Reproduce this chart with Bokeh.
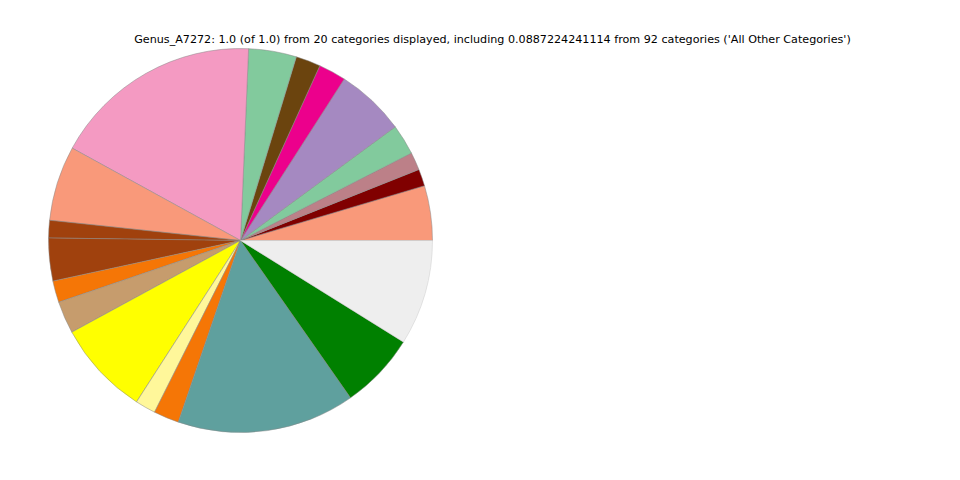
import numpy as np
from bokeh.plotting import figure
from bokeh.models import ColumnDataSource, Range1d
from bokeh.core.properties import value
from bokeh.embed import file_html
from bokeh.resources import INLINE

title_text = ("Genus_A7272: 1.0 (of 1.0) from 20 categories displayed, including "
              "0.0887224241114 from 92 categories ('All Other Categories')")

fractions = [0.0461, 0.0142, 0.0150, 0.0256, 0.0583, 0.0231, 0.0208, 0.0403,
             0.1769, 0.0631, 0.0147, 0.0361, 0.0181, 0.0272, 0.0797, 0.0172,
             0.0214, 0.1497, 0.0642, 0.0887224241114]
colors = ["#F9997A", "#800000", "#BC8088", "#82CA9D", "#A589C1", "#EC008C",
          "#6B440E", "#82CA9D", "#F49AC2", "#F9997A", "#A0410D", "#A0410D",
          "#F57606", "#C69C6D", "#FFFF00", "#FFF79A", "#F57606", "#5FA09E",
          "#008000", "#EEEEEE"]
edges = ["#888888"] * 19 + ["#CCCCCC"]

W, H = 944, 464
frac = np.array(fractions) / np.sum(fractions)
ends = np.cumsum(frac) * 2 * np.pi
starts = np.concatenate([[0.0], ends[:-1]])

src = ColumnDataSource(dict(start=starts, end=ends, color=colors, edge=edges,
                            x=[240] * len(fractions), y=[H - 240] * len(fractions)))

p = figure(width=W, height=H, output_backend="svg", toolbar_location=None,
           x_range=Range1d(0, W), y_range=Range1d(0, H), min_border=0)
p.axis.visible = False
p.grid.visible = False
p.outline_line_color = None
p.background_fill_color = "white"
p.border_fill_color = "white"

p.wedge(x="x", y="y", radius=192, radius_units="screen", start_angle="start",
        end_angle="end", fill_color="color", line_color="edge", line_width=0.5,
        source=src)

p.text(x=[492], y=[H - 39], text=[title_text], text_font=value("DejaVu Sans"),
       text_font_size="11.15px", text_align="center", text_baseline="middle",
       text_color="black")

open("out.html", "w").write(file_html(p, INLINE))
